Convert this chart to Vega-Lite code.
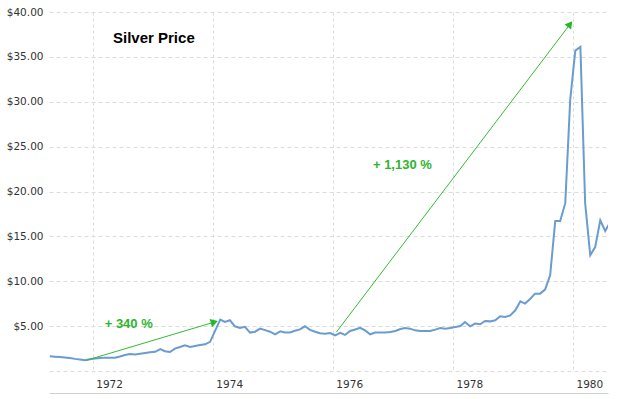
{
  "$schema": "https://vega.github.io/schema/vega-lite/v6.json",
  "width": 559,
  "height": 359,
  "autosize": "none",
  "padding": {"left": 49, "top": 12, "right": 9, "bottom": 28},
  "background": "white",
  "title": {
    "text": "Silver Price",
    "anchor": "start",
    "frame": "group",
    "orient": "top",
    "offset": 0,
    "dx": 64,
    "dy": 46,
    "baseline": "middle",
    "font": "Liberation Sans",
    "fontSize": 15,
    "fontWeight": "bold",
    "color": "#000000"
  },
  "config": {"view": {"stroke": null}},
  "datasets": {
    "silver": [
      {"date": "1971-04-15", "price": 1.64}, {"date": "1971-05-15", "price": 1.60}, {"date": "1971-06-15", "price": 1.56},
      {"date": "1971-07-15", "price": 1.50}, {"date": "1971-08-15", "price": 1.45}, {"date": "1971-09-15", "price": 1.35},
      {"date": "1971-10-15", "price": 1.27}, {"date": "1971-11-15", "price": 1.19}, {"date": "1971-12-15", "price": 1.30},
      {"date": "1972-01-15", "price": 1.38}, {"date": "1972-02-15", "price": 1.44}, {"date": "1972-03-15", "price": 1.49},
      {"date": "1972-04-15", "price": 1.49}, {"date": "1972-05-15", "price": 1.49}, {"date": "1972-06-15", "price": 1.62},
      {"date": "1972-07-15", "price": 1.78}, {"date": "1972-08-15", "price": 1.90}, {"date": "1972-09-15", "price": 1.83},
      {"date": "1972-10-15", "price": 1.92}, {"date": "1972-11-15", "price": 2.01}, {"date": "1972-12-15", "price": 2.08},
      {"date": "1973-01-15", "price": 2.14}, {"date": "1973-02-15", "price": 2.45}, {"date": "1973-03-15", "price": 2.20},
      {"date": "1973-04-15", "price": 2.12}, {"date": "1973-05-15", "price": 2.50}, {"date": "1973-06-15", "price": 2.67},
      {"date": "1973-07-15", "price": 2.86}, {"date": "1973-08-15", "price": 2.67}, {"date": "1973-09-15", "price": 2.79},
      {"date": "1973-10-15", "price": 2.90}, {"date": "1973-11-15", "price": 2.97}, {"date": "1973-12-15", "price": 3.25},
      {"date": "1974-01-15", "price": 4.50}, {"date": "1974-02-15", "price": 5.73}, {"date": "1974-03-15", "price": 5.46},
      {"date": "1974-04-15", "price": 5.65}, {"date": "1974-05-15", "price": 4.98}, {"date": "1974-06-15", "price": 4.80},
      {"date": "1974-07-15", "price": 4.92}, {"date": "1974-08-15", "price": 4.28}, {"date": "1974-09-15", "price": 4.38},
      {"date": "1974-10-15", "price": 4.72}, {"date": "1974-11-15", "price": 4.55}, {"date": "1974-12-15", "price": 4.38},
      {"date": "1975-01-15", "price": 4.08}, {"date": "1975-02-15", "price": 4.42}, {"date": "1975-03-15", "price": 4.30},
      {"date": "1975-04-15", "price": 4.30}, {"date": "1975-05-15", "price": 4.48}, {"date": "1975-06-15", "price": 4.63},
      {"date": "1975-07-15", "price": 4.98}, {"date": "1975-08-15", "price": 4.58}, {"date": "1975-09-15", "price": 4.38},
      {"date": "1975-10-15", "price": 4.20}, {"date": "1975-11-15", "price": 4.16}, {"date": "1975-12-15", "price": 4.23},
      {"date": "1976-01-15", "price": 3.98}, {"date": "1976-02-15", "price": 4.26}, {"date": "1976-03-15", "price": 4.02},
      {"date": "1976-04-15", "price": 4.46}, {"date": "1976-05-15", "price": 4.62}, {"date": "1976-06-15", "price": 4.80},
      {"date": "1976-07-15", "price": 4.52}, {"date": "1976-08-15", "price": 4.09}, {"date": "1976-09-15", "price": 4.28},
      {"date": "1976-10-15", "price": 4.28}, {"date": "1976-11-15", "price": 4.28}, {"date": "1976-12-15", "price": 4.35},
      {"date": "1977-01-15", "price": 4.46}, {"date": "1977-02-15", "price": 4.68}, {"date": "1977-03-15", "price": 4.79},
      {"date": "1977-04-15", "price": 4.72}, {"date": "1977-05-15", "price": 4.53}, {"date": "1977-06-15", "price": 4.46},
      {"date": "1977-07-15", "price": 4.46}, {"date": "1977-08-15", "price": 4.46}, {"date": "1977-09-15", "price": 4.61},
      {"date": "1977-10-15", "price": 4.79}, {"date": "1977-11-15", "price": 4.72}, {"date": "1977-12-15", "price": 4.79},
      {"date": "1978-01-15", "price": 4.90}, {"date": "1978-02-15", "price": 5.01}, {"date": "1978-03-15", "price": 5.46},
      {"date": "1978-04-15", "price": 4.98}, {"date": "1978-05-15", "price": 5.28}, {"date": "1978-06-15", "price": 5.20},
      {"date": "1978-07-15", "price": 5.57}, {"date": "1978-08-15", "price": 5.53}, {"date": "1978-09-15", "price": 5.65},
      {"date": "1978-10-15", "price": 6.09}, {"date": "1978-11-15", "price": 6.02}, {"date": "1978-12-15", "price": 6.20},
      {"date": "1979-01-15", "price": 6.76}, {"date": "1979-02-15", "price": 7.77}, {"date": "1979-03-15", "price": 7.51},
      {"date": "1979-04-15", "price": 8.02}, {"date": "1979-05-15", "price": 8.62}, {"date": "1979-06-15", "price": 8.62},
      {"date": "1979-07-15", "price": 9.07}, {"date": "1979-08-15", "price": 10.66}, {"date": "1979-09-15", "price": 16.70},
      {"date": "1979-10-15", "price": 16.70}, {"date": "1979-11-15", "price": 18.70}, {"date": "1979-12-15", "price": 30.20},
      {"date": "1980-01-15", "price": 35.70}, {"date": "1980-02-15", "price": 36.10}, {"date": "1980-03-15", "price": 18.70},
      {"date": "1980-04-15", "price": 12.90}, {"date": "1980-05-15", "price": 13.80}, {"date": "1980-06-15", "price": 16.80},
      {"date": "1980-07-15", "price": 15.60}, {"date": "1980-08-15", "price": 16.60}
    ],
    "arrows": [
      {"start": "1971-11-23", "from": 1.19, "end": "1974-01-10", "to": 5.45},
      {"start": "1976-01-23", "from": 4.35, "end": "1979-12-14", "to": 38.64}
    ],
    "heads1": [{"date": "1974-01-10", "price": 5.45}],
    "heads2": [{"date": "1979-12-14", "price": 38.64}],
    "notes": [
      {"date": "1972-08-07", "price": 5.26, "label": "+ 340 %"},
      {"date": "1977-02-27", "price": 22.92, "label": "+ 1,130 %"}
    ]
  },
  "layer": [
    {
      "data": {"name": "silver"},
      "mark": {"type": "line", "color": "#6a9bd1", "strokeWidth": 2, "clip": true},
      "encoding": {
        "x": {
          "field": "date",
          "type": "temporal",
          "title": null,
          "scale": {
            "type": "utc",
            "domain": [
              {"year": 1971, "month": 4, "date": 10, "utc": true},
              {"year": 1980, "month": 8, "date": 1, "utc": true}
            ]
          },
          "axis": {
            "values": [
              {"year": 1972, "month": 1, "date": 1, "utc": true},
              {"year": 1974, "month": 1, "date": 1, "utc": true},
              {"year": 1976, "month": 1, "date": 1, "utc": true},
              {"year": 1978, "month": 1, "date": 1, "utc": true},
              {"year": 1980, "month": 1, "date": 1, "utc": true}
            ],
            "labelExpr": "utcFormat(datum.value, '%Y')",
            "labelAlign": "left",
            "labelOffset": 3,
            "labelPadding": -14,
            "labelFont": "DejaVu Sans",
            "labelFontSize": 10.5,
            "labelColor": "#333333",
            "labelOverlap": false,
            "labelFlush": false,
            "ticks": false,
            "domain": true,
            "domainColor": "#d0d0d0",
            "offset": 22,
            "grid": true,
            "gridColor": "#dcdcdc",
            "gridDash": [3, 3]
          }
        },
        "y": {
          "field": "price",
          "type": "quantitative",
          "title": null,
          "scale": {"domain": [0, 40], "nice": false, "zero": true},
          "axis": {
            "values": [0, 5, 10, 15, 20, 25, 30, 35, 40],
            "labelExpr": "datum.value == 0 ? '' : '$' + format(datum.value, '.2f')",
            "labelFont": "DejaVu Sans",
            "labelFontSize": 10.5,
            "labelColor": "#333333",
            "labelPadding": 6,
            "ticks": false,
            "domain": false,
            "grid": true,
            "gridColor": "#dcdcdc",
            "gridDash": [4, 3]
          }
        }
      }
    },
    {
      "data": {"name": "arrows"},
      "mark": {"type": "rule", "color": "#33bb33", "strokeWidth": 1},
      "encoding": {
        "x": {"field": "start", "type": "temporal", "title": null},
        "y": {"field": "from", "type": "quantitative", "title": null},
        "x2": {"field": "end"},
        "y2": {"field": "to"}
      }
    },
    {
      "data": {"name": "heads1"},
      "mark": {"type": "point", "shape": "triangle-right", "filled": true, "color": "#22bb22", "size": 70, "angle": 343.4, "opacity": 1},
      "encoding": {
        "x": {"field": "date", "type": "temporal", "title": null},
        "y": {"field": "price", "type": "quantitative", "title": null}
      }
    },
    {
      "data": {"name": "heads2"},
      "mark": {"type": "point", "shape": "triangle-right", "filled": true, "color": "#22bb22", "size": 70, "angle": 307.2, "opacity": 1},
      "encoding": {
        "x": {"field": "date", "type": "temporal", "title": null},
        "y": {"field": "price", "type": "quantitative", "title": null}
      }
    },
    {
      "data": {"name": "notes"},
      "mark": {"type": "text", "color": "#2db52d", "font": "Liberation Sans", "fontSize": 13, "fontWeight": "bold", "align": "center", "baseline": "middle"},
      "encoding": {
        "x": {"field": "date", "type": "temporal", "title": null},
        "y": {"field": "price", "type": "quantitative", "title": null},
        "text": {"field": "label", "type": "nominal"}
      }
    }
  ]
}
